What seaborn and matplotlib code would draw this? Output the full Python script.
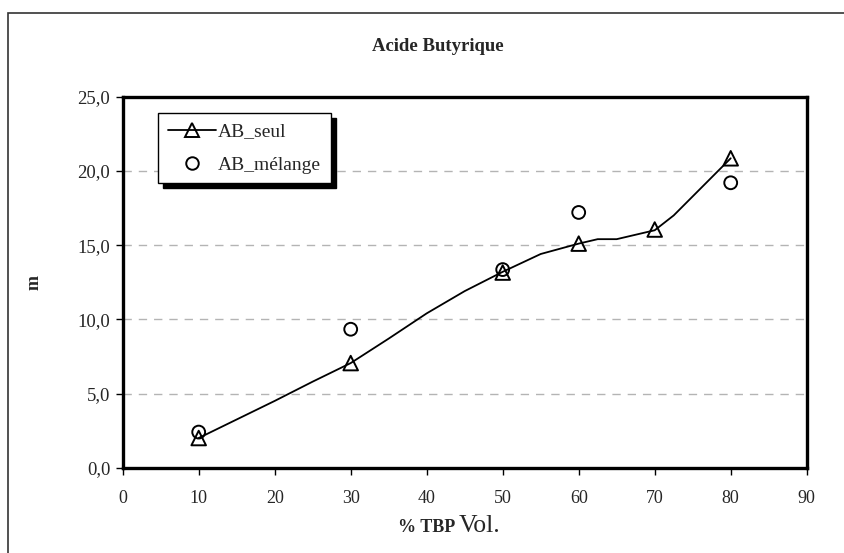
import matplotlib
matplotlib.use("Agg")
import matplotlib.pyplot as plt
from matplotlib.lines import Line2D
from matplotlib.patches import Rectangle
import seaborn as sns

# measured points
tbp = [10, 30, 50, 60, 70, 80]
ab_seul = [2.0, 7.05, 13.15, 15.1, 16.05, 20.85]

tbp_mel = [10, 30, 50, 60, 80]
ab_melange = [2.4, 9.33, 13.35, 17.2, 19.2]

# smoothed line as drawn in the chart
curve_x = [10, 20, 25, 30, 35, 40, 45, 50, 55, 60, 62.5, 65, 70, 72.5, 80]
curve_y = [2.0, 4.5, 5.8, 7.05, 8.7, 10.4, 11.9, 13.2, 14.4, 15.1, 15.4, 15.4, 16.0, 17.0, 20.85]

x_ticks = [0, 10, 20, 30, 40, 50, 60, 70, 80, 90]
y_ticks = [0, 5, 10, 15, 20, 25]
y_labels = ["0,0", "5,0", "10,0", "15,0", "20,0", "25,0"]

sns.set_style("white")
plt.rcParams['font.family'] = ['Liberation Serif', 'DejaVu Serif']

fig = plt.figure(figsize=(8.44, 5.53), dpi=100)
ax = fig.add_axes([122.7 / 844, (553 - 467.7) / 553, 684 / 844, 371 / 553])

# outer frame (only left/top visible)
fig.patches.append(Rectangle((8 / 844, -0.1), 1.2, (553 - 13) / 553 + 0.1,
                             transform=fig.transFigure, fill=False,
                             edgecolor="#333333", linewidth=1.2))

for yv in y_ticks[1:-1]:
    ax.axhline(yv, color="#b4b4b4", linestyle=(0, (6, 5)), linewidth=1.0, zorder=0)

sns.lineplot(x=curve_x, y=curve_y, color="black", linewidth=1.3, ax=ax,
             sort=False, zorder=2)
sns.scatterplot(x=tbp, y=ab_seul, marker="^", s=110, facecolors="none",
                edgecolors="black", linewidths=1.4, ax=ax, zorder=3)
sns.scatterplot(x=tbp_mel, y=ab_melange, marker="o", s=85, facecolors="none",
                edgecolors="black", linewidths=1.4, ax=ax, zorder=3)

ax.set_xlim(0, 90)
ax.set_ylim(0, 25)
ax.set_xticks(x_ticks)
ax.set_xticklabels([str(v) for v in x_ticks], fontsize=13)
ax.set_yticks(y_ticks)
ax.set_yticklabels(y_labels, fontsize=13.5)
ax.tick_params(axis="both", direction="out", length=5, width=1, color="black",
               pad=4, bottom=True, left=True)
ax.tick_params(axis="x", pad=11)
for sp in ax.spines.values():
    sp.set_linewidth(2.4)
    sp.set_color("black")

fig.text(438 / 844, 1 - 47 / 553, "Acide Butyrique", ha="center", va="center",
         fontsize=13.5, fontweight="bold")
fig.text(34 / 844, 1 - 282 / 553, "m", ha="center", va="center", rotation=90,
         fontsize=13, fontweight="bold")
fig.text(455 / 844, 1 - 528 / 553, "% TBP", ha="right", va="center",
         fontsize=13, fontweight="bold")
fig.text(459 / 844, 1 - 526 / 553, "Vol.", ha="left", va="center", fontsize=18.5)

handles = [
    Line2D([], [], color="black", linewidth=1.3, marker="^", markersize=10,
           markerfacecolor="none", markeredgecolor="black", markeredgewidth=1.4),
    Line2D([], [], color="none", marker="o", markersize=9,
           markerfacecolor="none", markeredgecolor="black", markeredgewidth=1.4),
]
leg = ax.legend(handles, ["AB_seul", "AB_mélange"], loc="upper left",
                bbox_to_anchor=((158 - 122.7) / 684, (467.7 - 113) / 371),
                borderaxespad=0, frameon=True, fancybox=False, fontsize=14,
                handlelength=2.5, handletextpad=0.1, labelspacing=0.8,
                borderpad=0.5,
                shadow={"ox": 3.5, "oy": -3.5, "color": "black", "alpha": 1})
leg.get_frame().set_edgecolor("black")
leg.get_frame().set_linewidth(1.0)
leg.get_frame().set_alpha(1)

fig.savefig("out.png", dpi=100)
